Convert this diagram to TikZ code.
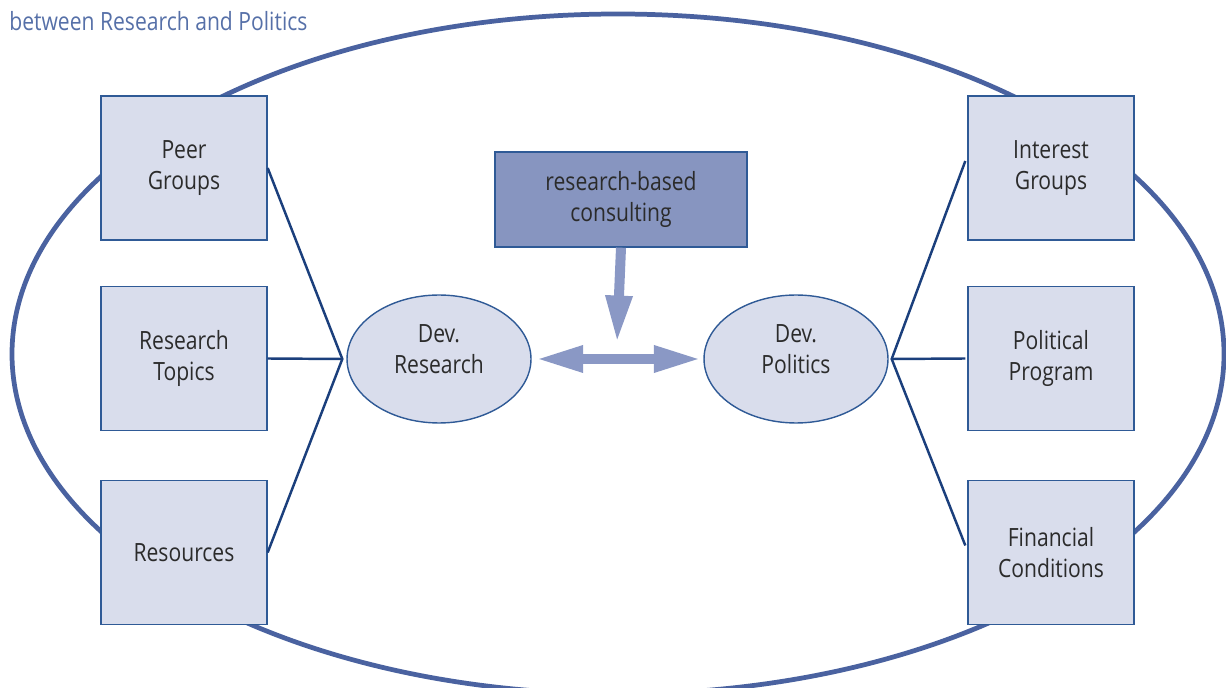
\documentclass[tikz,border=0pt]{standalone}
\usepackage{fontspec}
\setmainfont{Open Sans}[FakeStretch=0.84]
\usepackage{xcolor}
\usepackage{tikz}
\usetikzlibrary{arrows.meta,calc,shapes.geometric}
\definecolor{ringblue}{HTML}{4A62A0}
\definecolor{boxfill}{HTML}{D9DDEC}
\definecolor{boxline}{HTML}{2F5A96}
\definecolor{linkblue}{HTML}{1B3F7C}
\definecolor{consultfill}{HTML}{8795C0}
\definecolor{arrowblue}{HTML}{8A98C5}
\definecolor{txtgray}{HTML}{2B2B2B}
\definecolor{titleblue}{HTML}{5670A8}
\tikzset{
    factor/.style={draw=boxline,fill=boxfill,line width=0.8pt,minimum width=3.32cm,minimum height=2.88cm,
        inner sep=0pt,align=center,text=txtgray,font=\fontsize{14.3}{17.6}\selectfont},
    devel/.style={factor,ellipse,minimum width=3.68cm,minimum height=2.56cm,text depth=11pt},
    link/.style={draw=linkblue,line width=1.4pt},
    bigtip/.tip={Triangle[length=27pt,width=14pt]}
}

\begin{document}
\begin{tikzpicture}[x=0.02cm,y=-0.02cm]
            \useasboundingbox (0,0) rectangle (1226,688);
            \node[anchor=base west,inner sep=0pt,text=titleblue,font=\fontsize{14.3}{17.6}\selectfont] (title) at (9,31) {between Research and Politics};
            \draw[ringblue,line width=2.7pt] (618,354) ellipse [x radius=606,y radius=340];
            \node[factor] (peer) at (184,168) {Peer\\Groups};
            \node[factor] (topics) at (184,358.5) {Research\\Topics};
            \node[factor] (resources) at (184,552.5) {Resources};
            \node[factor] (interest) at (1051,168) {Interest\\Groups};
            \node[factor] (program) at (1051,358.5) {Political\\Program};
            \node[factor] (finance) at (1051,552.5) {Financial\\Conditions};
            \node[devel] (research) at (439,359) {Dev.\\Research};
            \node[devel] (politics) at (796,359) {Dev.\\Politics};
            \node[factor,fill=consultfill,minimum width=5.04cm,minimum height=1.9cm] (consulting) at (621,199.5) {research-based\\consulting};
            \coordinate (JL) at ([xshift=-0.08cm]research.west);
            \coordinate (JR) at ([xshift=0.06cm]politics.east);
            \draw[link] (peer.east) -- (JL) -- (resources.east);
            \draw[link] (topics.east) -- (JL);
            \draw[link] ([xshift=-0.04cm,yshift=0.14cm]interest.west) -- (JR) -- ([xshift=-0.04cm,yshift=0.14cm]finance.west);
            \draw[link] ([xshift=-0.04cm]program.west) -- (JR);
            \coordinate (C) at (617,343);
            \begin{scope}[draw=arrowblue,fill=arrowblue,line width=5.7pt]
                \draw[-bigtip] (consulting.south) -- (C);
                \draw[bigtip-bigtip,shorten <=0.08cm,shorten >=0.04cm] (research) -- (politics);
            \end{scope}
        \end{tikzpicture}
\end{document}
